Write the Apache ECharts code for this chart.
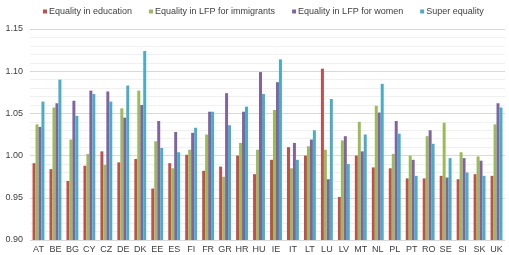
<!DOCTYPE html>
<html>
<head>
<meta charset="utf-8">
<script src="https://cdn.jsdelivr.net/npm/echarts@6/dist/echarts.min.js"></script>
<style>
  html, body { margin: 0; padding: 0; background: #fff; }
  #chart { width: 509px; height: 255px; }
</style>
</head>
<body>
<div id="chart"></div>
<script>
// countries on the x axis
var countries = ['AT', 'BE', 'BG', 'CY', 'CZ', 'DE', 'DK', 'EE', 'ES', 'FI', 'FR', 'GR', 'HR', 'HU',
  'IE', 'IT', 'LT', 'LU', 'LV', 'MT', 'NL', 'PL', 'PT', 'RO', 'SE', 'SI', 'SK', 'UK'];

var education = [0.991, 0.984, 0.970, 0.988, 1.005, 0.992, 0.996, 0.961, 0.991, 1.001, 0.982, 0.987, 1.000, 0.978,
  0.995, 1.010, 1.000, 1.103, 0.951, 1.000, 0.986, 0.985, 0.973, 0.973, 0.976, 0.972, 0.978, 0.976];
var immigrants = [1.037, 1.057, 1.019, 1.002, 0.989, 1.056, 1.077, 1.017, 0.985, 1.007, 1.025, 0.975, 1.015, 1.007,
  1.054, 0.985, 1.011, 1.007, 1.018, 1.040, 1.059, 1.002, 1.000, 1.023, 1.039, 1.004, 0.999, 1.037];
var women = [1.034, 1.062, 1.065, 1.077, 1.076, 1.045, 1.060, 1.041, 1.028, 1.027, 1.052, 1.074, 1.052, 1.099,
  1.087, 1.015, 1.019, 0.972, 1.023, 1.005, 1.051, 1.041, 0.995, 1.030, 0.974, 0.997, 0.994, 1.062];
var superEq = [1.064, 1.090, 1.047, 1.073, 1.064, 1.083, 1.124, 1.009, 1.004, 1.033, 1.052, 1.036, 1.058, 1.073,
  1.114, 0.995, 1.030, 1.067, 0.990, 1.025, 1.085, 1.026, 0.976, 1.014, 0.997, 0.980, 0.976, 1.057];

var seriesNames = ['Equality in education', 'Equality in LFP for immigrants', 'Equality in LFP for women', 'Super equality'];
var colors = ['#c0504d', '#9bbb59', '#8064a2', '#4bacc6'];
var seriesData = [education, immigrants, women, superEq];

var chart = echarts.init(document.getElementById('chart'));

var series = seriesNames.map(function (name, i) {
  return {
    name: name,
    type: 'bar',
    data: seriesData[i],
    barGap: '0%',
    barCategoryGap: '30%',
    itemStyle: { color: colors[i] }
  };
});

chart.setOption({
  animation: false,
  color: colors,
  textStyle: { fontFamily: 'Liberation Sans, Arial, sans-serif' },
  legend: {
    top: 2,
    left: 38,
    width: 470,
    itemWidth: 4,
    itemHeight: 4,
    itemGap: 17,
    icon: 'rect',
    textStyle: { fontSize: 9, color: '#404040', padding: [0, 0, 0, -3] },
    data: seriesNames
  },
  grid: { left: 30, right: 4, top: 29, bottom: 15 },
  xAxis: {
    type: 'category',
    data: countries,
    axisLine: { show: false },
    axisTick: { show: false },
    axisLabel: { fontSize: 9, color: '#404040', margin: 5, interval: 0 }
  },
  yAxis: {
    type: 'value',
    min: 0.90,
    max: 1.15,
    interval: 0.05,
    axisLine: { show: false },
    axisTick: { show: false },
    axisLabel: {
      fontSize: 9, color: '#404040', margin: 7,
      formatter: function (v) { return v.toFixed(2); }
    },
    splitLine: { lineStyle: { color: '#d9d9d9', width: 1 } },
    minorTick: { show: false, splitNumber: 5 },
    minorSplitLine: { show: true, lineStyle: { color: '#f0f0f0', width: 1 } }
  },
  series: series
});
</script>
</body>
</html>
